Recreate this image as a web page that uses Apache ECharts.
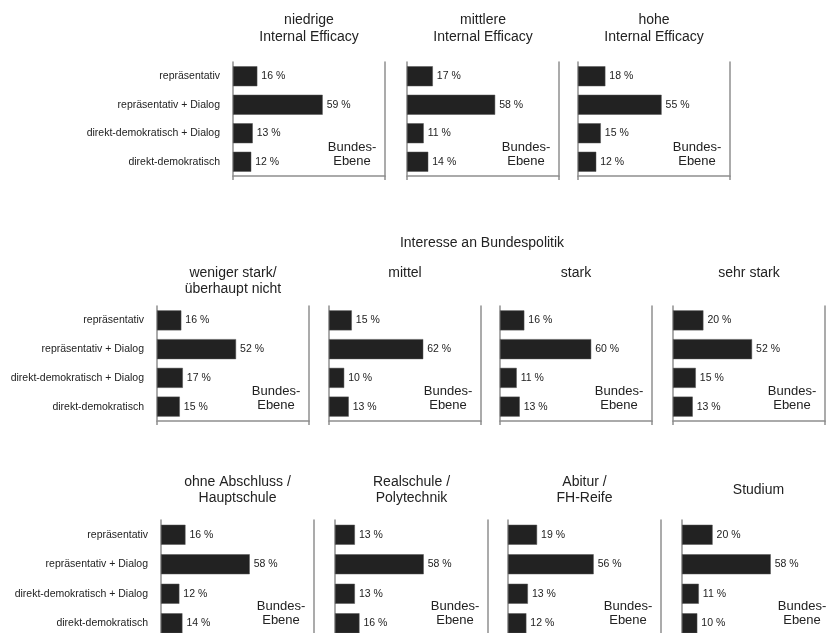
<!DOCTYPE html>
<html>
<head>
<meta charset="utf-8">
<script src="https://cdn.jsdelivr.net/npm/echarts@6/dist/echarts.min.js"></script>
<style>html,body{margin:0;padding:0;background:#fff;}#c{width:829px;height:633px;}</style>
</head>
<body>
<div id="c"></div>
<script>
// ---- data ----
const categories = ['repräsentativ', 'repräsentativ + Dialog', 'direkt-demokratisch + Dialog', 'direkt-demokratisch'];

const row1Titles = ['niedrige\nInternal Efficacy', 'mittlere\nInternal Efficacy', 'hohe\nInternal Efficacy'];
const effNiedrig = [16, 59, 13, 12];
const effMittel = [17, 58, 11, 14];
const effHoch = [18, 55, 15, 12];

const row2Heading = 'Interesse an Bundespolitik';
const row2Titles = ['weniger stark/\nüberhaupt nicht', 'mittel', 'stark', 'sehr stark'];
const intWeniger = [16, 52, 17, 15];
const intMittel = [15, 62, 10, 13];
const intStark = [16, 60, 11, 13];
const intSehrStark = [20, 52, 15, 13];

const row3Titles = ['ohne Abschluss /\nHauptschule', 'Realschule /\nPolytechnik', 'Abitur /\nFH-Reife', 'Studium'];
const eduHaupt = [16, 58, 12, 14];
const eduReal = [13, 58, 13, 16];
const eduAbitur = [19, 56, 13, 12];
const eduStudium = [20, 58, 11, 10];

const levelLabel = 'Bundes-\nEbene';
const valueMax = 100;

// ---- layout ----
const FONT = '"Liberation Sans", Arial, Helvetica, sans-serif';
const rows = [
  { titles: row1Titles, values: [effNiedrig, effMittel, effHoch], lefts: [233, 407, 578], top: 62, height: 114, width: 152,
    titleTops: [11.5, 11.5, 11.5], titleLH: 17, levelTop: 140.5 },
  { titles: row2Titles, values: [intWeniger, intMittel, intStark, intSehrStark], lefts: [157, 329, 500, 673], top: 306, height: 115, width: 152,
    titleTops: [265.5, 265.5, 265.5, 265.5], titleLH: 16, levelTop: 384.5 },
  { titles: row3Titles, values: [eduHaupt, eduReal, eduAbitur, eduStudium], lefts: [161, 335, 508, 682], top: 520, height: 118, width: 153,
    titleTops: [474, 474, 474, 482], titleLH: 16, levelTop: 599 }
];

const grid = [], xAxis = [], yAxis = [], series = [], title = [];
const axisColor = '#8f8f8f';
let gi = 0;
rows.forEach((row) => {
  row.values.forEach((vals, pi) => {
    const left = row.lefts[pi];
    grid.push({ left: left, top: row.top, width: row.width, height: row.height, containLabel: false, outerBoundsMode: 'none' });
    xAxis.push({
      gridIndex: gi, type: 'value', min: 0, max: valueMax, interval: valueMax,
      axisLine: { show: true, lineStyle: { color: axisColor, width: 1.5 } },
      axisTick: { show: true, length: 4, lineStyle: { color: axisColor, width: 1.5 } },
      axisLabel: { show: false }, splitLine: { show: false }
    });
    yAxis.push({
      gridIndex: gi, type: 'category', data: categories, inverse: true,
      axisLine: { show: true, lineStyle: { color: axisColor, width: 1.5 } },
      axisTick: { show: false },
      axisLabel: { show: pi === 0, color: '#222', fontSize: 10.5, fontFamily: FONT, margin: 13 }
    });
    yAxis.push({
      gridIndex: gi, type: 'category', data: categories, inverse: true, position: 'right',
      axisLine: { show: true, lineStyle: { color: axisColor, width: 1.5 } },
      axisTick: { show: false }, axisLabel: { show: false }
    });
    series.push({
      type: 'bar', xAxisIndex: gi, yAxisIndex: gi * 2, data: vals, barWidth: 20,
      itemStyle: { color: '#222222', borderColor: '#555', borderWidth: 0.5 },
      label: { show: true, position: 'right', distance: 4, formatter: '{c} %', color: '#222', fontSize: 10.5, fontFamily: FONT },
      silent: true, animation: false
    });
    title.push({
      text: row.titles[pi], left: left + row.width / 2, top: row.titleTops[pi], textAlign: 'center', padding: 0,
      textStyle: { fontSize: 14, fontWeight: 'normal', color: '#222', fontFamily: FONT, lineHeight: row.titleLH }
    });
    title.push({
      text: levelLabel, left: left + row.width - 33, top: row.levelTop, textAlign: 'center', padding: 0,
      textStyle: { fontSize: 13, fontWeight: 'normal', color: '#222', fontFamily: FONT, lineHeight: 14, align: 'center' }
    });
    gi++;
  });
});
title.push({
  text: row2Heading, left: 482, top: 236, textAlign: 'center', padding: 0,
  textStyle: { fontSize: 14, fontWeight: 'normal', color: '#222', fontFamily: FONT, lineHeight: 14 }
});

const chart = echarts.init(document.getElementById('c'), null, { renderer: 'canvas' });
chart.setOption({ backgroundColor: '#fff', animation: false, title, grid, xAxis, yAxis, series });
</script>
</body>
</html>
